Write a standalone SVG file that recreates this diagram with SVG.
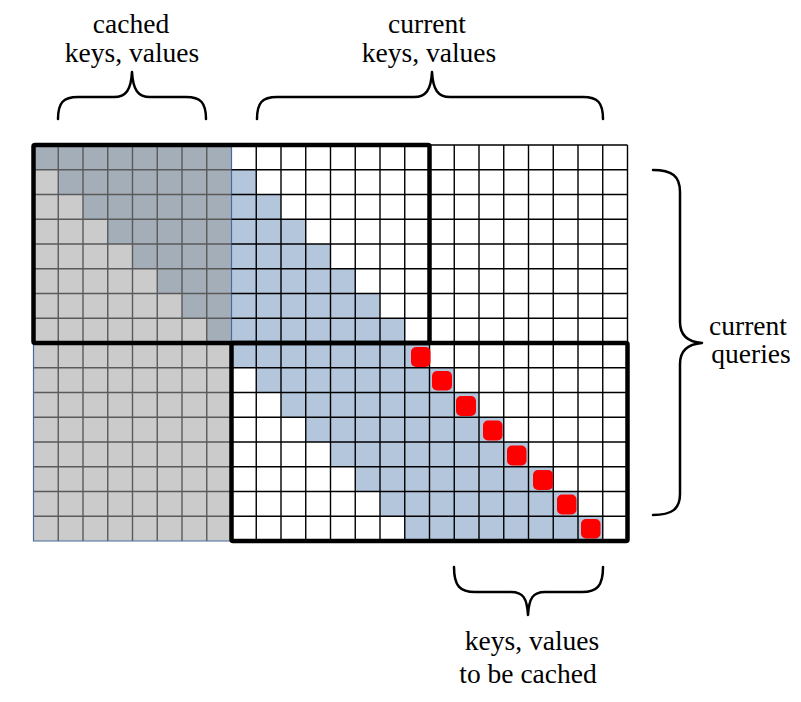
<svg xmlns="http://www.w3.org/2000/svg" width="801" height="702" viewBox="0 0 801 702">
<style>
.lbl{font-family:"Liberation Serif","Times New Roman",Times,"DejaVu Serif",serif;font-size:27.5px;fill:#000;text-anchor:middle}
.brace{fill:none;stroke:#000;stroke-width:2.5;stroke-linecap:round;stroke-linejoin:round}
.box{fill:none;stroke:#000;stroke-width:4.5;stroke-linejoin:round}
.red{fill:#ff0000}
</style>
<rect width="801" height="702" fill="#fff"/>
<g id="grid">
<rect id="cached-area" x="33.5" y="145" width="198" height="396" fill="#cbcbcb"/>
<polygon id="cached-window" fill="#a4aeb9" points="33.5,145 231.5,145 231.5,343 206.75,343 206.75,318.25 182,318.25 182,293.5 157.25,293.5 157.25,268.75 132.5,268.75 132.5,244 107.75,244 107.75,219.25 83,219.25 83,194.5 58.25,194.5 58.25,169.75 33.5,169.75"/>
<polygon id="current-window" fill="#b4c6dc" points="231.5,169.75 256.25,169.75 256.25,194.5 281,194.5 281,219.25 305.75,219.25 305.75,244 330.5,244 330.5,268.75 355.25,268.75 355.25,293.5 380,293.5 380,318.25 404.75,318.25 404.75,343 429.5,343 429.5,367.75 454.25,367.75 454.25,392.5 479,392.5 479,417.25 503.75,417.25 503.75,442 528.5,442 528.5,466.75 553.25,466.75 553.25,491.5 578,491.5 578,516.25 602.75,516.25 602.75,541 404.75,541 404.75,516.25 380,516.25 380,491.5 355.25,491.5 355.25,466.75 330.5,466.75 330.5,442 305.75,442 305.75,417.25 281,417.25 281,392.5 256.25,392.5 256.25,367.75 231.5,367.75"/>
<path id="grey-lines" fill="none" stroke="#5a5a5a" stroke-width="1.4" d="M58.25,145V541M83,145V541M107.75,145V541M132.5,145V541M157.25,145V541M182,145V541M206.75,145V541M33.5,145H231.5M33.5,169.75H231.5M33.5,194.5H231.5M33.5,219.25H231.5M33.5,244H231.5M33.5,268.75H231.5M33.5,293.5H231.5M33.5,318.25H231.5M33.5,343H231.5M33.5,367.75H231.5M33.5,392.5H231.5M33.5,417.25H231.5M33.5,442H231.5M33.5,466.75H231.5M33.5,491.5H231.5M33.5,516.25H231.5"/>
<path id="blue-edge" fill="none" stroke="#4a6a9a" stroke-width="1.2" d="M33.5,343V541H231.5V145"/>
<path id="black-lines" fill="none" stroke="#000" stroke-width="1.4" d="M256.25,145V541M281,145V541M305.75,145V541M330.5,145V541M355.25,145V541M380,145V541M404.75,145V541M429.5,145V541M454.25,145V541M479,145V541M503.75,145V541M528.5,145V541M553.25,145V541M578,145V541M602.75,145V541M627.5,145V541M231.5,145H627.5M231.5,169.75H627.5M231.5,194.5H627.5M231.5,219.25H627.5M231.5,244H627.5M231.5,268.75H627.5M231.5,293.5H627.5M231.5,318.25H627.5M231.5,343H627.5M231.5,367.75H627.5M231.5,392.5H627.5M231.5,417.25H627.5M231.5,442H627.5M231.5,466.75H627.5M231.5,491.5H627.5M231.5,516.25H627.5M231.5,541H627.5"/>
</g>
<g id="new-kv">
<rect class="red" x="411" y="347" width="19.5" height="20" rx="5"/>
<rect class="red" x="432" y="371" width="20" height="19.5" rx="5"/>
<rect class="red" x="456" y="396" width="20" height="20" rx="5"/>
<rect class="red" x="483" y="420.5" width="19.5" height="20" rx="5"/>
<rect class="red" x="507" y="445.5" width="19.5" height="20" rx="5"/>
<rect class="red" x="533" y="470" width="20" height="20" rx="5"/>
<rect class="red" x="557" y="494.5" width="19.5" height="20" rx="5"/>
<rect class="red" x="581" y="519" width="19.5" height="19.5" rx="5"/>
</g>
<g id="boxes">
<rect id="box-top" class="box" x="33.5" y="145" width="396" height="198" rx="1.5"/>
<rect id="box-bottom" class="box" x="231.5" y="343" width="396" height="198" rx="1.5"/>
</g>
<g id="brace-cached">
<path class="brace" d="M58,119 C58,103 63,97 78,97 L114,97 C126,97 131,90 132,72 C133,90 138,97 150,97 L186,97 C201,97 206,103 206,119"/>
<text class="lbl" x="131" y="33">cached</text>
<text class="lbl" x="132" y="62">keys, values</text>
</g>
<g id="brace-current">
<path class="brace" d="M257,119 C257,103 262,97 277,97 L414,97 C426,97 431,90 432,72 C433,90 438,97 450,97 L583,97 C598,97 603,103 603,119"/>
<text class="lbl" x="427" y="33">current</text>
<text class="lbl" x="429" y="62">keys, values</text>
</g>
<g id="brace-tobecached">
<path class="brace" d="M454,567 C454,586 460,592 475,592 L511,592 C523,592 527,598 528,615 C529,598 533,592 545,592 L582,592 C597,592 603,586 603,567"/>
<text class="lbl" x="532" y="650">keys, values</text>
<text class="lbl" x="528" y="683">to be cached</text>
</g>
<g id="brace-queries">
<path class="brace" d="M653,170 C672,170 680,176 680,192 L680,322 C680,336 688,342 702,343 C688,344 680,350 680,364 L680,494 C680,509 672,515 653,515"/>
<text class="lbl" x="748" y="335">current</text>
<text class="lbl" x="751" y="363">queries</text>
</g>
</svg>
